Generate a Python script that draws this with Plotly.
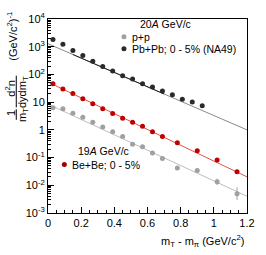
import plotly.graph_objects as go
import numpy as np

# ---- data ----
pp_x = [0.03, 0.09, 0.15, 0.21, 0.27, 0.33, 0.39, 0.45, 0.51, 0.57, 0.63, 0.69, 0.78, 0.90, 1.02, 1.14]
pp_y = [6.3, 5.8, 4.0, 2.84, 1.9, 1.28, 0.86, 0.58, 0.30, 0.246, 0.146, 0.092, 0.042, 0.034, 0.0133, 0.005]
pp_err_up = [0, 0, 0, 0, 0, 0, 0, 0, 0, 0, 0, 0, 0, 0, 0.004, 0.0035]
pp_err_dn = [0, 0, 0, 0, 0, 0, 0, 0, 0, 0, 0, 0, 0, 0, 0.0031, 0.0021]

bebe_x = [0.03, 0.09, 0.15, 0.21, 0.27, 0.33, 0.39, 0.45, 0.51, 0.57, 0.63, 0.69, 0.78, 0.90, 1.02, 1.14]
bebe_y = [46, 30, 20.3, 13.2, 8.7, 5.8, 3.9, 2.6, 1.9, 1.35, 0.86, 0.58, 0.34, 0.175, 0.081, 0.031]

pbpb_x = [0.03, 0.09, 0.15, 0.21, 0.27, 0.33, 0.39, 0.45, 0.51, 0.57, 0.63, 0.69, 0.75, 0.81, 0.87, 0.93]
pbpb_y = [1840, 1240, 728, 478, 297, 193, 134, 90, 69, 46, 35, 25, 18.4, 12.7, 10.2, 7.4]

# exponential fits: value at x=0 and log10-slope
pp_fit_a, pp_fit_k = 8.5, 2.77
bebe_fit_a, bebe_fit_k = 53.0, 2.85
pbpb_fit_a, pbpb_fit_k = 1280.0, 2.59
fit_range = [0.0, 1.2]
pbpb_fit_dark_range = [0.15, 0.70]

x_ticks = [0, 0.2, 0.4, 0.6, 0.8, 1.0, 1.2]
x_ticktext = ["0", "0.2", "0.4", "0.6", "0.8", "1", "1.2"]
y_ticks = [1e-3, 1e-2, 1e-1, 1, 10, 1e2, 1e3, 1e4]
y_ticktext = ["10<sup>-3</sup>", "10<sup>-2</sup>", "10<sup>-1</sup>", "1", "10",
              "10<sup>2</sup>", "10<sup>3</sup>", "10<sup>4</sup>"]

FONT = "Liberation Sans, Arial, sans-serif"


def fit_line(a, k, rng):
    xs = np.linspace(rng[0], rng[1], 2)
    return xs, a * 10 ** (-k * xs)


fig = go.Figure()

# fit lines
for a, k, col in [(pp_fit_a, pp_fit_k, "#bdbdbd"),
                  (bebe_fit_a, bebe_fit_k, "#e05050"),
                  (pbpb_fit_a, pbpb_fit_k, "#8a8a8a")]:
    lx, ly = fit_line(a, k, fit_range)
    fig.add_trace(go.Scatter(x=lx, y=ly, mode="lines", line=dict(color=col, width=1),
                             showlegend=False, hoverinfo="skip"))
lx, ly = fit_line(pbpb_fit_a, pbpb_fit_k, pbpb_fit_dark_range)
fig.add_trace(go.Scatter(x=lx, y=ly, mode="lines", line=dict(color="#222222", width=1),
                         showlegend=False, hoverinfo="skip"))

# data points
fig.add_trace(go.Scatter(x=pp_x, y=pp_y, mode="markers", name="p+p",
                         marker=dict(color="#a0a0a0", size=5),
                         error_y=dict(type="data", array=pp_err_up, arrayminus=pp_err_dn,
                                      color="#a0a0a0", thickness=1, width=0),
                         showlegend=False))
fig.add_trace(go.Scatter(x=bebe_x, y=bebe_y, mode="markers", name="Be+Be; 0 - 5%",
                         marker=dict(color="#c00000", size=5), showlegend=False))
fig.add_trace(go.Scatter(x=pbpb_x, y=pbpb_y, mode="markers", name="Pb+Pb; 0 - 5% (NA49)",
                         marker=dict(color="#2a2a2a", size=5), showlegend=False))

# geometry helpers (pixel -> paper)
L, R, T, B = 48, 11, 11, 42
W, H = 266, 255
PW, PH = W - L - R, H - T - B


def px(x):
    return (x - L) / PW


def py(y):
    return (H - B - y) / PH


ann = []


def text(x, y, s, size=10.5, xanchor="left", angle=0):
    ann.append(dict(x=px(x), y=py(y), xref="paper", yref="paper", text=s, showarrow=False,
                    xanchor=xanchor, yanchor="middle", textangle=angle,
                    font=dict(size=size, color="black", family=FONT)))


# legend texts
text(170, 16, "20<i>A</i> GeV/c", xanchor="center")
text(133, 29.5, "p+p")
text(133, 42, "Pb+Pb; 0 - 5% (NA49)")
text(106, 148, "19<i>A</i> GeV/c", xanchor="center")
text(71, 162.5, "Be+Be; 0 - 5%")

# y-axis title pieces (rotated)
text(9, 109.5, "1", size=11, xanchor="center", angle=-90)
text(22, 111, "m<sub>T</sub>", size=11, xanchor="center", angle=-90)
text(9, 83, "d<sup>2</sup>n", size=11, xanchor="center", angle=-90)
text(22, 87, "dydm<sub>T</sub>", size=11, xanchor="center", angle=-90)
text(11, 29, "(GeV/c<sup>2</sup>)<sup>-1</sup>", size=11, xanchor="center", angle=-90)

# x-axis title
ann.append(dict(x=px(254), y=py(242), xref="paper", yref="paper",
                text="m<sub>T</sub> - m<sub>π</sub> (GeV/c<sup>2</sup>)", showarrow=False,
                xanchor="right", yanchor="middle",
                font=dict(size=11, color="black", family=FONT)))

shapes = [
    dict(type="line", xref="paper", yref="paper", x0=px(15), x1=px(15), y0=py(70), y1=py(103),
         line=dict(color="black", width=1)),
    dict(type="line", xref="paper", yref="paper", x0=px(15), x1=px(15), y0=py(105), y1=py(116),
         line=dict(color="black", width=1)),
]
# legend markers
for cx, cy, col in [(127, 29.5, "#a0a0a0"), (127, 42, "#2a2a2a"), (65, 162.5, "#a00000")]:
    shapes.append(dict(type="circle", xref="paper", yref="paper", xsizemode="pixel",
                       ysizemode="pixel", xanchor=px(cx), yanchor=py(cy),
                       x0=-2.5, x1=2.5, y0=-2.5, y1=2.5,
                       fillcolor=col, line=dict(width=0)))

fig.update_layout(
    width=W, height=H,
    margin=dict(l=L, r=R, t=T, b=B),
    paper_bgcolor="white", plot_bgcolor="white",
    font=dict(family=FONT, size=11, color="black"),
    annotations=ann, shapes=shapes,
    xaxis=dict(range=[0, 1.2], tickvals=x_ticks, ticktext=x_ticktext,
               ticks="inside", ticklen=6, tickcolor="black", showgrid=False, zeroline=False,
               showline=True, linecolor="black", linewidth=1, mirror=True,
               minor=dict(ticks="inside", ticklen=3, dtick=0.05, tickcolor="black", showgrid=False),
               tickfont=dict(size=11, family=FONT)),
    yaxis=dict(type="log", range=[-3, 4], tickvals=y_ticks, ticktext=y_ticktext,
               ticks="inside", ticklen=6, tickcolor="black", showgrid=False, zeroline=False,
               showline=True, linecolor="black", linewidth=1, mirror=True,
               minor=dict(ticks="inside", ticklen=3, dtick="D1", tickcolor="black", showgrid=False),
               tickfont=dict(size=11, family=FONT)),
    showlegend=False,
)

fig.write_html("out.html", config={"displayModeBar": False},
               post_script="document.body.style.margin='0';document.body.style.overflow='hidden';")
